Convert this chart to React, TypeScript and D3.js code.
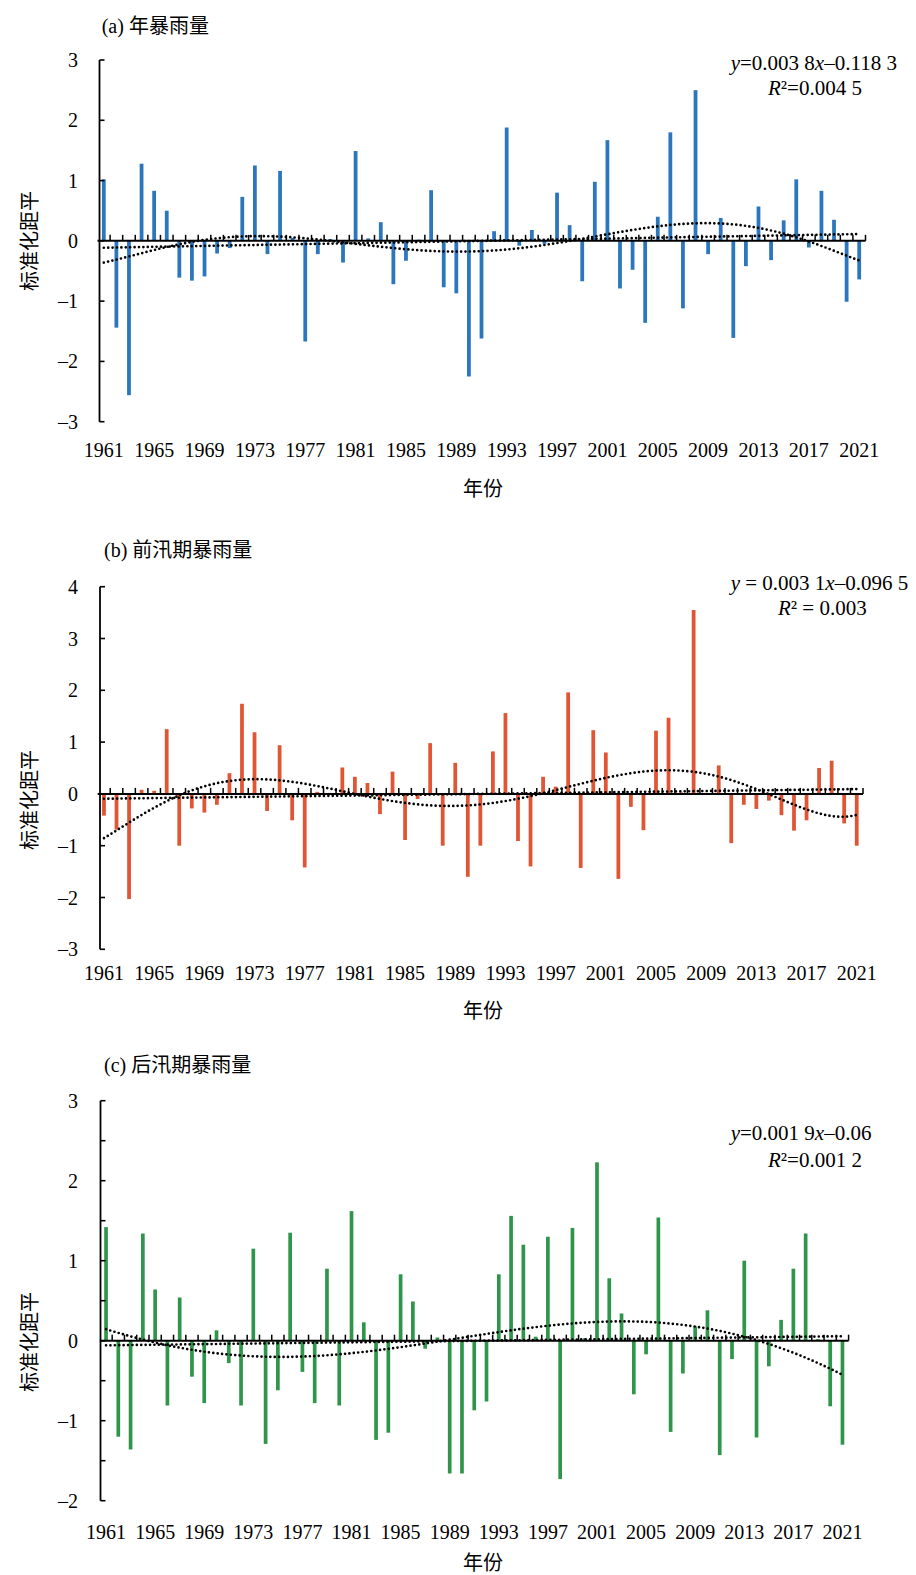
import React from 'react'
import * as d3 from 'd3'

// years on the category axis
const years = d3.range(1961, 2022)
const yearLabels = ['1961', '1965', '1969', '1973', '1977', '1981', '1985', '1989', '1993', '1997', '2001', '2005', '2009', '2013', '2017', '2021']

// (a) 年暴雨量
const annualValues = [
  1.02, -1.44, -2.56, 1.28, 0.83, 0.50, -0.61, -0.66, -0.59, -0.21,
  -0.12, 0.73, 1.25, -0.22, 1.16, 0.05, -1.67, -0.22, 0.03, -0.36,
  1.49, 0.04, 0.31, -0.72, -0.33, 0.02, 0.84, -0.77, -0.87, -2.25,
  -1.62, 0.16, 1.88, -0.08, 0.18, -0.05, 0.80, 0.26, -0.67, 0.98,
  1.67, -0.79, -0.48, -1.36, 0.40, 1.80, -1.12, 2.50, -0.22, 0.38,
  -1.61, -0.42, 0.57, -0.32, 0.34, 1.02, -0.11, 0.83, 0.35, -1.01, -0.64
]

// (b) 前汛期暴雨量
const preFloodValues = [
  -0.42, -0.69, -2.03, 0.08, 0.06, 1.25, -1.00, -0.28, -0.36, -0.21,
  0.40, 1.74, 1.19, -0.33, 0.94, -0.51, -1.42, 0.04, 0.02, 0.51,
  0.33, 0.21, -0.39, 0.43, -0.89, -0.10, 0.98, -1.00, 0.60, -1.60,
  -1.00, 0.82, 1.56, -0.91, -1.40, 0.33, 0.14, 1.96, -1.43, 1.23,
  0.80, -1.64, -0.25, -0.70, 1.22, 1.47, 0.03, 3.55, 0.02, 0.55,
  -0.95, -0.21, -0.29, -0.13, -0.41, -0.71, -0.51, 0.50, 0.64, -0.57, -1.00
]

// (c) 后汛期暴雨量
const postFloodValues = [
  1.42, -1.20, -1.36, 1.34, 0.64, -0.81, 0.54, -0.45, -0.78, 0.13,
  -0.28, -0.81, 1.15, -1.29, -0.62, 1.35, -0.39, -0.78, 0.90, -0.81,
  1.62, 0.23, -1.24, -1.15, 0.83, 0.49, -0.10, 0.04, -1.66, -1.66,
  -0.87, -0.76, 0.83, 1.56, 1.20, 0.05, 1.30, -1.73, 1.41, 0.03,
  2.23, 0.78, 0.34, -0.67, -0.17, 1.54, -1.14, -0.41, 0.18, 0.38,
  -1.43, -0.23, 1.00, -1.21, -0.32, 0.26, 0.90, 1.34, 0.02, -0.82, -1.30
]

// linear trend coefficients as printed on the chart: [slope, intercept]
const annualLinear = [0.0038, -0.1183]
const preFloodLinear = [0.0031, -0.0965]
const postFloodLinear = [0.0019, -0.06]

const serif = "'Liberation Serif', 'Times New Roman', 'Noto Sans CJK SC', serif"
const cjk = "'Liberation Serif', 'Noto Sans CJK SC', serif"

// least squares polynomial trend (like the spreadsheet's trendline)
function polyfit(ys, order) {
  const n = ys.length
  const mid = (n + 1) / 2, half = (n - 1) / 2
  const m = order + 1
  const A = d3.range(m).map(() => new Array(m + 1).fill(0))
  ys.forEach((y, i) => {
    const t = (i + 1 - mid) / half
    const p = d3.range(m).map(k => Math.pow(t, k))
    for (let r = 0; r < m; r++) {
      for (let c = 0; c < m; c++) A[r][c] += p[r] * p[c]
      A[r][m] += p[r] * y
    }
  })
  for (let c = 0; c < m; c++) {
    let piv = c
    for (let r = c + 1; r < m; r++) if (Math.abs(A[r][c]) > Math.abs(A[piv][c])) piv = r
    const tmp = A[c]; A[c] = A[piv]; A[piv] = tmp
    for (let r = 0; r < m; r++) {
      if (r === c) continue
      const f = A[r][c] / A[c][c]
      for (let k = c; k <= m; k++) A[r][k] -= f * A[c][k]
    }
  }
  const coef = d3.range(m).map(k => A[k][m] / A[k][k])
  return x => {
    const t = (x - mid) / half
    return coef.reduce((s, a, k) => s + a * Math.pow(t, k), 0)
  }
}

function Panel({ cfg }) {
  const { values, color, xRange, yDomain, yRange, axisX, tickStep, labelTicks } = cfg
  const x = d3.scaleBand().domain(years).range(xRange).paddingInner(0.7).paddingOuter(0.35)
  const y = d3.scaleLinear().domain(yDomain).range(yRange)
  const step = x.step()
  const xi = i => xRange[0] + step * (i - 0.5)
  const y0 = y(0)

  const yTicks = d3.range(yDomain[0], yDomain[1] + 0.001, tickStep)
  const boundaries = d3.range(1, years.length + 1).map(k => xRange[0] + k * step)

  const poly = polyfit(values, cfg.order)
  const line = d3.line().x(d => xi(d[0])).y(d => y(d[1]))
  const polyPts = d3.range(1, years.length + 0.001, 0.25).map(i => [i, poly(i)])
  const linPts = [1, years.length].map(i => [i, cfg.linear[0] * i + cfg.linear[1]])

  const dotted = { fill: 'none', stroke: '#000', strokeWidth: 2.7, strokeLinecap: 'round', strokeDasharray: '0 4.4' }

  return (
    <g>
      <text x={cfg.titleX} y={cfg.titleY} fontFamily={cjk} fontSize={20}>{cfg.title}</text>
      <text transform={`translate(30, ${cfg.yTitleY}) rotate(-90)`} textAnchor="middle" dominantBaseline="central"
        fontFamily={cjk} fontSize={20}>标准化距平</text>
      <text x={483} y={cfg.xTitleY} textAnchor="middle" fontFamily={cjk} fontSize={20}>年份</text>

      {values.map((v, i) => (
        <rect key={i} x={x(years[i])} width={x.bandwidth()}
          y={Math.min(y(v), y0)} height={Math.abs(y(v) - y0)} fill={color} />
      ))}

      <line x1={axisX} x2={axisX} y1={y(yDomain[1])} y2={y(yDomain[0])} stroke="#000" strokeWidth={1.8} />
      {yTicks.map(t => (
        <line key={t} x1={axisX} x2={axisX + 5} y1={y(t)} y2={y(t)} stroke="#000" strokeWidth={1.6} />
      ))}
      {yTicks.filter(t => !labelTicks || Number.isInteger(t)).map(t => (
        <text key={'l' + t} x={78} y={y(t) + 7} textAnchor="end" fontFamily={serif} fontSize={20}>
          {t < 0 ? '–' + Math.abs(t) : t}
        </text>
      ))}

      <line x1={xRange[0]} x2={xRange[1]} y1={y0} y2={y0} stroke="#000" strokeWidth={2} />
      {boundaries.map(b => (
        <line key={b} x1={b} x2={b} y1={y0} y2={y0 - 6} stroke="#000" strokeWidth={1.5} />
      ))}
      {yearLabels.map(l => (
        <text key={l} x={x(+l) + x.bandwidth() / 2} y={cfg.xLabelY} textAnchor="middle" fontFamily={serif} fontSize={20}>{l}</text>
      ))}

      <path d={line(linPts)} style={dotted} />
      <path d={line(polyPts)} style={dotted} />

      <text x={730.7} y={cfg.eqY[0]} fontFamily={serif} fontSize={21}>
        <tspan fontStyle="italic">y</tspan>{cfg.eq[0]}<tspan fontStyle="italic">x</tspan>{cfg.eq[1]}
      </text>
      <text x={cfg.r2X} y={cfg.eqY[1]} fontFamily={serif} fontSize={21}>
        <tspan fontStyle="italic">R</tspan>{cfg.r2}
      </text>
    </g>
  )
}

const panels = [
  {
    title: '(a) 年暴雨量', titleX: 101.7, titleY: 33, yTitleY: 241, xTitleY: 496,
    values: annualValues, color: '#2b76bd', linear: annualLinear, order: 6,
    xRange: [97.5, 865.5], axisX: 99.5, yDomain: [-3, 3], yRange: [421.7, 60], tickStep: 1, labelTicks: false,
    xLabelY: 457, eq: ['=0.003 8', '–0.118 3'], r2: '²=0.004 5', r2X: 768, eqY: [70, 95]
  },
  {
    title: '(b) 前汛期暴雨量', titleX: 104, titleY: 557, yTitleY: 800, xTitleY: 1018,
    values: preFloodValues, color: '#e05533', linear: preFloodLinear, order: 6,
    xRange: [97.7, 863], axisX: 100, yDomain: [-3, 4], yRange: [949.3, 586.7], tickStep: 1, labelTicks: false,
    xLabelY: 980, eq: [' = 0.003 1', '–0.096 5'], r2: '² = 0.003', r2X: 778, eqY: [590, 615]
  },
  {
    title: '(c) 后汛期暴雨量', titleX: 104, titleY: 1072, yTitleY: 1342, xTitleY: 1570,
    values: postFloodValues, color: '#2f954a', linear: postFloodLinear, order: 6,
    xRange: [99.9, 848.6], axisX: 100.5, yDomain: [-2, 3], yRange: [1500.7, 1100.7], tickStep: 0.5, labelTicks: true,
    xLabelY: 1539, eq: ['=0.001 9', '–0.06'], r2: '²=0.001 2', r2X: 768, eqY: [1140, 1167]
  }
]

export default function App() {
  return (
    <svg width={916} height={1575} style={{ position: 'absolute', left: 0, top: 0, background: '#fff' }}>
      <rect width={916} height={1575} fill="#fff" />
      {panels.map((p, i) => <Panel key={i} cfg={p} />)}
    </svg>
  )
}
